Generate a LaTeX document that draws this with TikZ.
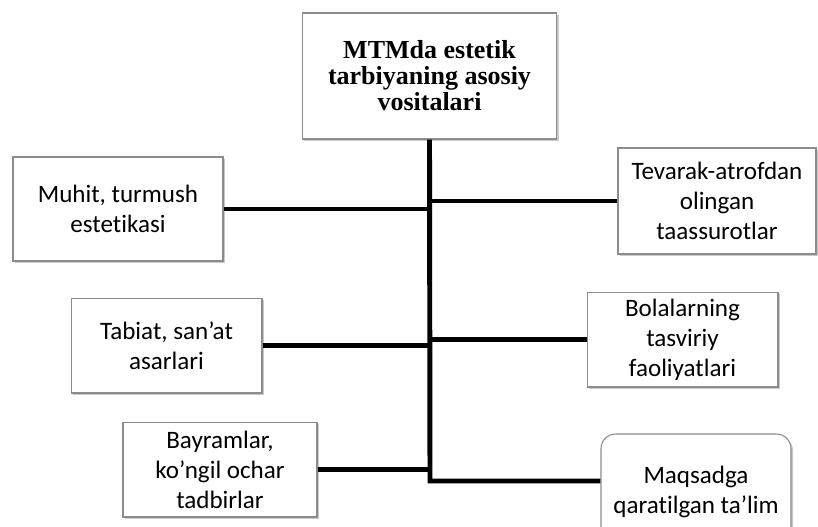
\documentclass[tikz,border=0pt]{standalone}
\usepackage{fontspec}
\setmainfont{Carlito}[Ligatures={NoCommon}]
\newfontfamily\headfont{Liberation Serif}
\usetikzlibrary{shadows}
\begin{document}
\begin{tikzpicture}[x=0.75pt, y=-0.75pt, line join=miter,
  box/.style={draw=black!45, fill=white, line width=0.8pt, align=center, inner sep=0pt,
    drop shadow={shadow xshift=1.6pt, shadow yshift=-1.8pt, opacity=0.3, fill=black!70},
    font=\fontsize{18.8}{22.5}\selectfont},
  link/.style={line width=3.7pt}]
\useasboundingbox (0,0) rectangle (818,526);
\def\trunkx{430}
% head
\node[box, minimum width=191pt, minimum height=94.5pt, font=\headfont\bfseries\fontsize{19.5}{19.5}\selectfont]
  (head) at (429.5,76) {MTMda estetik\\tarbiyaning asosiy\\vositalari};
% left side
\node[box, minimum width=157.5pt, minimum height=78pt] (muhit) at (118,209) {Muhit, turmush\\estetikasi};
\node[box, minimum width=143.2pt, minimum height=71.2pt] (tabiat) at (166.5,345.5) {Tabiat, san’at\\asarlari};
\node[box, minimum width=145.5pt, minimum height=71.2pt] (bayram) at (220,469.5) {Bayramlar,\\ko’ngil ochar\\tadbirlar};
% right side
\node[box, minimum width=148.5pt, minimum height=79.5pt] (tevarak) at (717,201) {Tevarak-atrofdan\\olingan\\taassurotlar};
\node[box, minimum width=143.2pt, minimum height=71.2pt] (bola) at (682.5,339.5) {Bolalarning\\tasviriy\\faoliyatlari};
\node[box, rounded corners=11pt, minimum width=142.5pt, minimum height=87pt] (maqsad) at (696,492) {Maqsadga\\qaratilgan ta’lim};
% trunk
\coordinate (bot) at (\trunkx,481);
\draw[link] (head.south) -- (bot) -- (maqsad.west |- bot);
\foreach \n in {muhit,tabiat,bayram,tevarak,bola}
  \draw[link] (\n) -- (\n -| bot);
\end{tikzpicture}
\end{document}
